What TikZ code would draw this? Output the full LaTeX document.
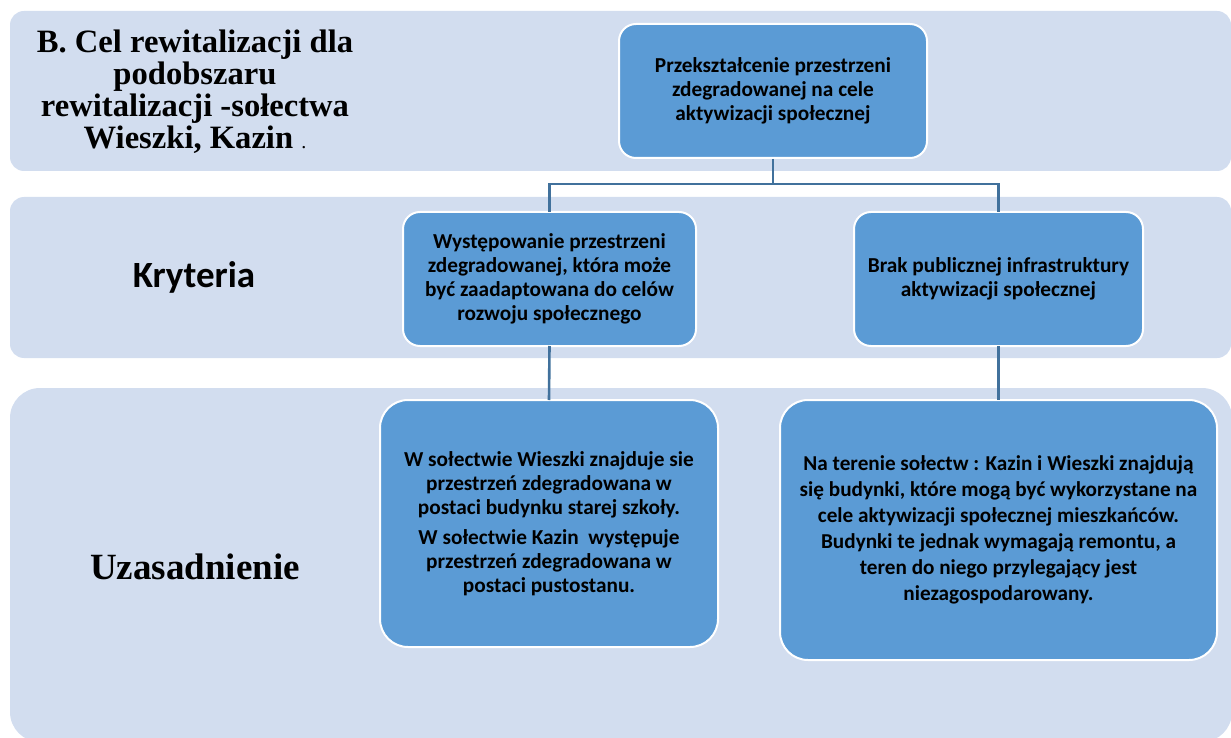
\documentclass[tikz,border=0pt]{standalone}
\usepackage{fontspec}
\setmainfont{Carlito}
\newfontfamily\headserif{Liberation Serif}
\definecolor{bandblue}{HTML}{D2DDEF}
\definecolor{boxblue}{HTML}{5B9BD5}
\definecolor{linkblue}{HTML}{41719C}

\begin{document}
\begin{tikzpicture}[x=1pt, y=-1pt,
  every node/.style={font=\bfseries\fontsize{21.3}{24}\selectfont, align=center, inner sep=0pt},
  band/.style={fill=bandblue, rounded corners=14pt},
  cellbox/.style={fill=boxblue, draw=white, line width=2pt, rounded corners=17pt},
  link/.style={draw=linkblue, line width=2.6pt}]
\useasboundingbox (0,0) rectangle (1231,738);
\node[band, minimum width=1221pt, minimum height=160pt] (bandA) at (620.5,91) {};
\node[band, minimum width=1221pt, minimum height=161pt] (bandB) at (620.5,277.5) {};
\node[band, rounded corners=30pt, minimum width=1222pt, minimum height=354pt] (bandC) at (621,565) {};
\node[font=\headserif\bfseries\fontsize{32.6}{32}\selectfont] (title) at (195,92)
  {B. Cel rewitalizacji dla\\podobszaru\\rewitalizacji -sołectwa\\Wieszki, Kazin {\fontsize{20}{20}\selectfont\mdseries .}};
\node[font=\bfseries\fontsize{37}{37}\selectfont] (crit) at (194,277) {Kryteria};
\node[font=\headserif\bfseries\fontsize{37}{37}\selectfont] (just) at (195,567) {Uzasadnienie};
\node[cellbox, minimum width=308pt, minimum height=134pt] (goal) at (773,91)
  {Przekształcenie przestrzeni\\zdegradowanej na cele\\aktywizacji społecznej};
\node[cellbox, minimum width=293pt, minimum height=134pt] (critL) at (549.5,279)
  {Występowanie przestrzeni\\zdegradowanej, która może\\być zaadaptowana do celów\\rozwoju społecznego};
\node[cellbox, minimum width=289pt, minimum height=134pt] (critR) at (998.5,279)
  {Brak publicznej infrastruktury\\aktywizacji społecznej};
\node[cellbox, rounded corners=28pt, minimum width=338pt, minimum height=247pt] (justL) at (549,523.5)
  {W sołectwie Wieszki znajduje sie\\przestrzeń zdegradowana w\\postaci budynku starej szkoły.\\[6pt]W sołectwie Kazin\ \ występuje\\przestrzeń zdegradowana w\\postaci pustostanu.};
\node[cellbox, rounded corners=28pt, minimum width=437pt, minimum height=260pt,
  font=\bfseries\fontsize{21.2}{26}\selectfont] (justR) at (998.5,530)
  {Na terenie sołectw : Kazin i Wieszki znajdują\\się budynki, które mogą być wykorzystane na\\cele aktywizacji społecznej mieszkańców.\\Budynki te jednak wymagają remontu, a\\teren do niego przylegający jest\\niezagospodarowany.};
\draw[link] (goal.south) -- ++(0,25) coordinate (fork);
\draw[link] (fork) -| ([yshift=-1pt]critL.north);
\draw[link] (fork) -| ([yshift=-1pt]critR.north);
\draw[link] ([yshift=1pt]critL.south) -- ([yshift=-1pt]justL.north);
\draw[link] ([yshift=1pt]critR.south) -- ([yshift=-1pt]justR.north);
\end{tikzpicture}
\end{document}
